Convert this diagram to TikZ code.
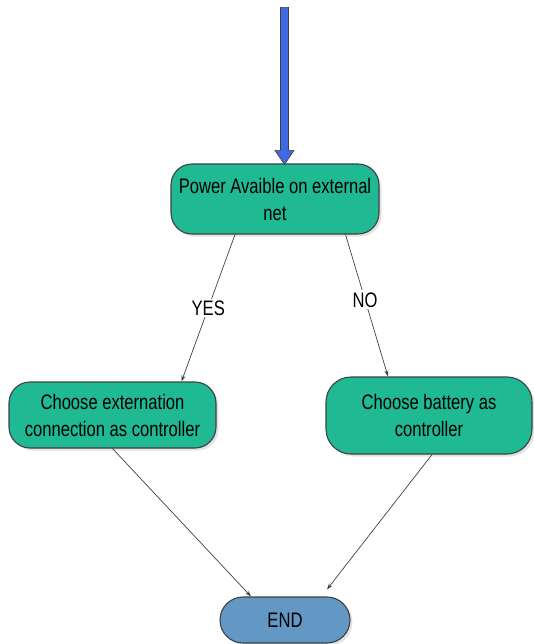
\documentclass[tikz,border=0pt]{standalone}
\usepackage{fontspec}
\setmainfont{Liberation Sans}[FakeStretch=0.79]
\usetikzlibrary{arrows.meta,shadows,calc}
\definecolor{stepgreen}{RGB}{31,185,148}
\definecolor{endblue}{RGB}{99,152,196}
\definecolor{feedblue}{RGB}{65,105,225}
\definecolor{edgegray}{RGB}{64,64,64}
\tikzset{
  flowbox/.style={draw=edgegray, line width=1.1pt, fill=stepgreen, inner sep=0pt,
    align=center, font=\fontsize{21}{27}\selectfont,
    drop shadow={shadow xshift=2.5pt, shadow yshift=-2.5pt, fill=black!22}},
  endbox/.style={flowbox, fill=endblue},
  link/.style={draw=edgegray, line width=0.7pt, -{Stealth[length=6pt,width=4pt]}},
  answer/.style={fill=white, inner sep=2pt, font=\fontsize{21}{24}\selectfont},
}
\begin{document}
\begin{tikzpicture}[x=1pt,y=-1pt]
  \useasboundingbox (0,0) rectangle (533,644);

  % decision and outcome boxes
  \node[flowbox, minimum width=208pt, minimum height=70pt, rounded corners=21pt]
    (top) at (275,199) {Power Avaible on external\\net};
  \node[flowbox, minimum width=207pt, minimum height=66pt, rounded corners=21pt]
    (left) at (112.5,415) {Choose externation\\connection as controller};
  \node[flowbox, minimum width=206pt, minimum height=77pt, rounded corners=25pt]
    (right) at (429,415.5) {Choose battery as\\controller};
  \node[endbox, minimum width=130pt, minimum height=46pt, rounded corners=23pt]
    (end) at (285,620) {END};

  % incoming feed arrow
  \coordinate (feed) at ($(top.north)+(9.5,-156)$);
  \filldraw[fill=feedblue, draw=edgegray, line width=0.6pt]
    ($(feed)+(-4,0)$) -- ($(feed)+(4,0)$) -- ($(top.north)+(13.5,-13)$)
    -- ($(top.north)+(19,-13)$) -- ($(top.north)+(9.5,1)$)
    -- ($(top.north)+(0,-13)$) -- ($(top.north)+(5.5,-13)$) -- cycle;

  % branches
  \draw[link] ([xshift=-40pt]top.south) -- node[answer, pos=0.5] {YES} ([xshift=69pt]left.north);
  \draw[link] ([xshift=70.5pt]top.south) -- node[answer, pos=0.46] {NO} ([xshift=-41pt]right.north);
  \draw[link] (left.south) -- ([xshift=-34pt]end.north);
  \draw[link] ([xshift=3pt]right.south) -- ($(end.north)+(42,-7)$);
\end{tikzpicture}
\end{document}
